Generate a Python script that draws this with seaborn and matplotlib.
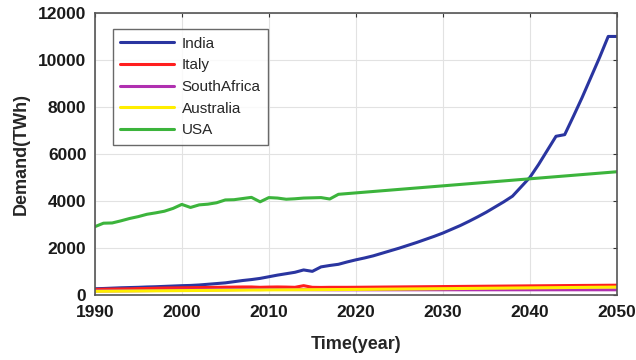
import numpy as np
import pandas as pd
import matplotlib
matplotlib.use("Agg")
import matplotlib.pyplot as plt
import seaborn as sns

years = list(range(1990, 2051))

india = [260, 270, 285, 300, 310, 320, 335, 345, 360, 375,
         390, 400, 420, 450, 480, 510, 560, 610, 650, 700,
         770, 840, 900, 960, 1060, 1000, 1190, 1250, 1300, 1400,
         1490, 1570, 1660, 1770, 1880, 1990, 2110, 2230, 2360, 2490,
         2630, 2790, 2950, 3130, 3320, 3520, 3740, 3960, 4200, 4600,
         5000, 5550, 6150, 6750, 6820, 7600, 8400, 9250, 10100, 11000,
         11000]

italy = [230, 240, 245, 250, 255, 265, 270, 280, 290, 295,
         300, 305, 310, 315, 320, 325, 330, 335, 335, 320,
         330, 335, 330, 320, 390, 320, 315, 320, 320, 320,
         322, 325, 328, 331, 334, 337, 340, 343, 346, 349,
         352, 355, 358, 361, 364, 367, 370, 373, 376, 379,
         382, 385, 388, 391, 394, 397, 400, 402, 405, 408,
         410]

south_africa = [165, 168, 170, 172, 175, 178, 182, 186, 190, 195,
                200, 203, 206, 210, 214, 218, 222, 226, 230, 225,
                230, 228, 226, 224, 222, 220, 218, 216, 215, 215,
                215, 215, 215, 215, 215, 215, 215, 215, 215, 215,
                215, 215, 215, 215, 215, 215, 215, 215, 215, 215,
                215, 215, 215, 215, 215, 215, 215, 215, 215, 215,
                215]

australia = [150, 153, 156, 159, 162, 165, 168, 171, 174, 177,
             180, 183, 186, 189, 192, 195, 198, 201, 204, 207,
             210, 212, 214, 216, 218, 220, 222, 224, 226, 228,
             230, 233, 236, 240, 243, 246, 250, 253, 256, 260,
             263, 266, 270, 273, 276, 280, 283, 286, 290, 293,
             296, 300, 303, 306, 310, 313, 316, 320, 323, 326,
             330]

usa = [2900, 3050, 3060, 3150, 3250, 3330, 3430, 3490, 3560, 3680,
       3850, 3720, 3830, 3860, 3920, 4040, 4050, 4100, 4150, 3960,
       4140, 4120, 4070, 4090, 4120, 4130, 4140, 4080, 4280, 4310,
       4340, 4370, 4400, 4430, 4460, 4490, 4520, 4550, 4580, 4610,
       4640, 4670, 4700, 4730, 4760, 4790, 4820, 4850, 4880, 4910,
       4940, 4970, 5000, 5030, 5060, 5090, 5120, 5150, 5180, 5210,
       5240]

countries = ["India", "Italy", "SouthAfrica", "Australia", "USA"]
series = [india, italy, south_africa, australia, usa]
colors = ["#2a35a0", "#ff1e1e", "#b030b0", "#ffee00", "#3cb43c"]

df = pd.concat(
    [pd.DataFrame({"Year": years, "Demand": vals, "Country": name})
     for name, vals in zip(countries, series)],
    ignore_index=True,
)

sns.set_style("white")
plt.rcParams["font.family"] = ["Liberation Sans", "DejaVu Sans"]

fig = plt.figure(figsize=(6.36, 3.6), dpi=100)
ax = fig.add_axes([0.149, 0.181, 0.821, 0.783])

sns.lineplot(data=df, x="Year", y="Demand", hue="Country",
             hue_order=countries, palette=colors, linewidth=2.2, ax=ax)

ax.set_xlim(1990, 2050)
ax.set_ylim(0, 12000)
ax.set_xticks(range(1990, 2051, 10))
ax.set_yticks(range(0, 12001, 2000))
ax.grid(True, color="#e2e2e2", linewidth=0.8)
ax.tick_params(direction="in", length=3, top=True, right=True,
               labelsize=12.5, colors="#333333", labelcolor="#1a1a1a")
ax.tick_params(axis="x", pad=7)
ax.tick_params(axis="y", pad=6)
for lbl in ax.get_xticklabels() + ax.get_yticklabels():
    lbl.set_fontweight("bold")
for s in ax.spines.values():
    s.set_color("#555555")
    s.set_linewidth(1.2)

ax.set_xlabel("Time(year)", fontsize=13, fontweight="bold", labelpad=12)
ax.set_ylabel("Demand(TWh)", fontsize=13, fontweight="bold", labelpad=6)

leg = ax.legend(loc="upper left", bbox_to_anchor=(0.02, 0.97),
                fontsize=11, handlelength=3.5, frameon=True,
                fancybox=False, borderpad=0.5, labelspacing=0.5,
                handletextpad=0.5)
leg.get_frame().set_edgecolor("#444444")
leg.get_frame().set_linewidth(1.0)
for line in leg.get_lines():
    line.set_linewidth(2.2)

fig.savefig("out.png", dpi=100)
